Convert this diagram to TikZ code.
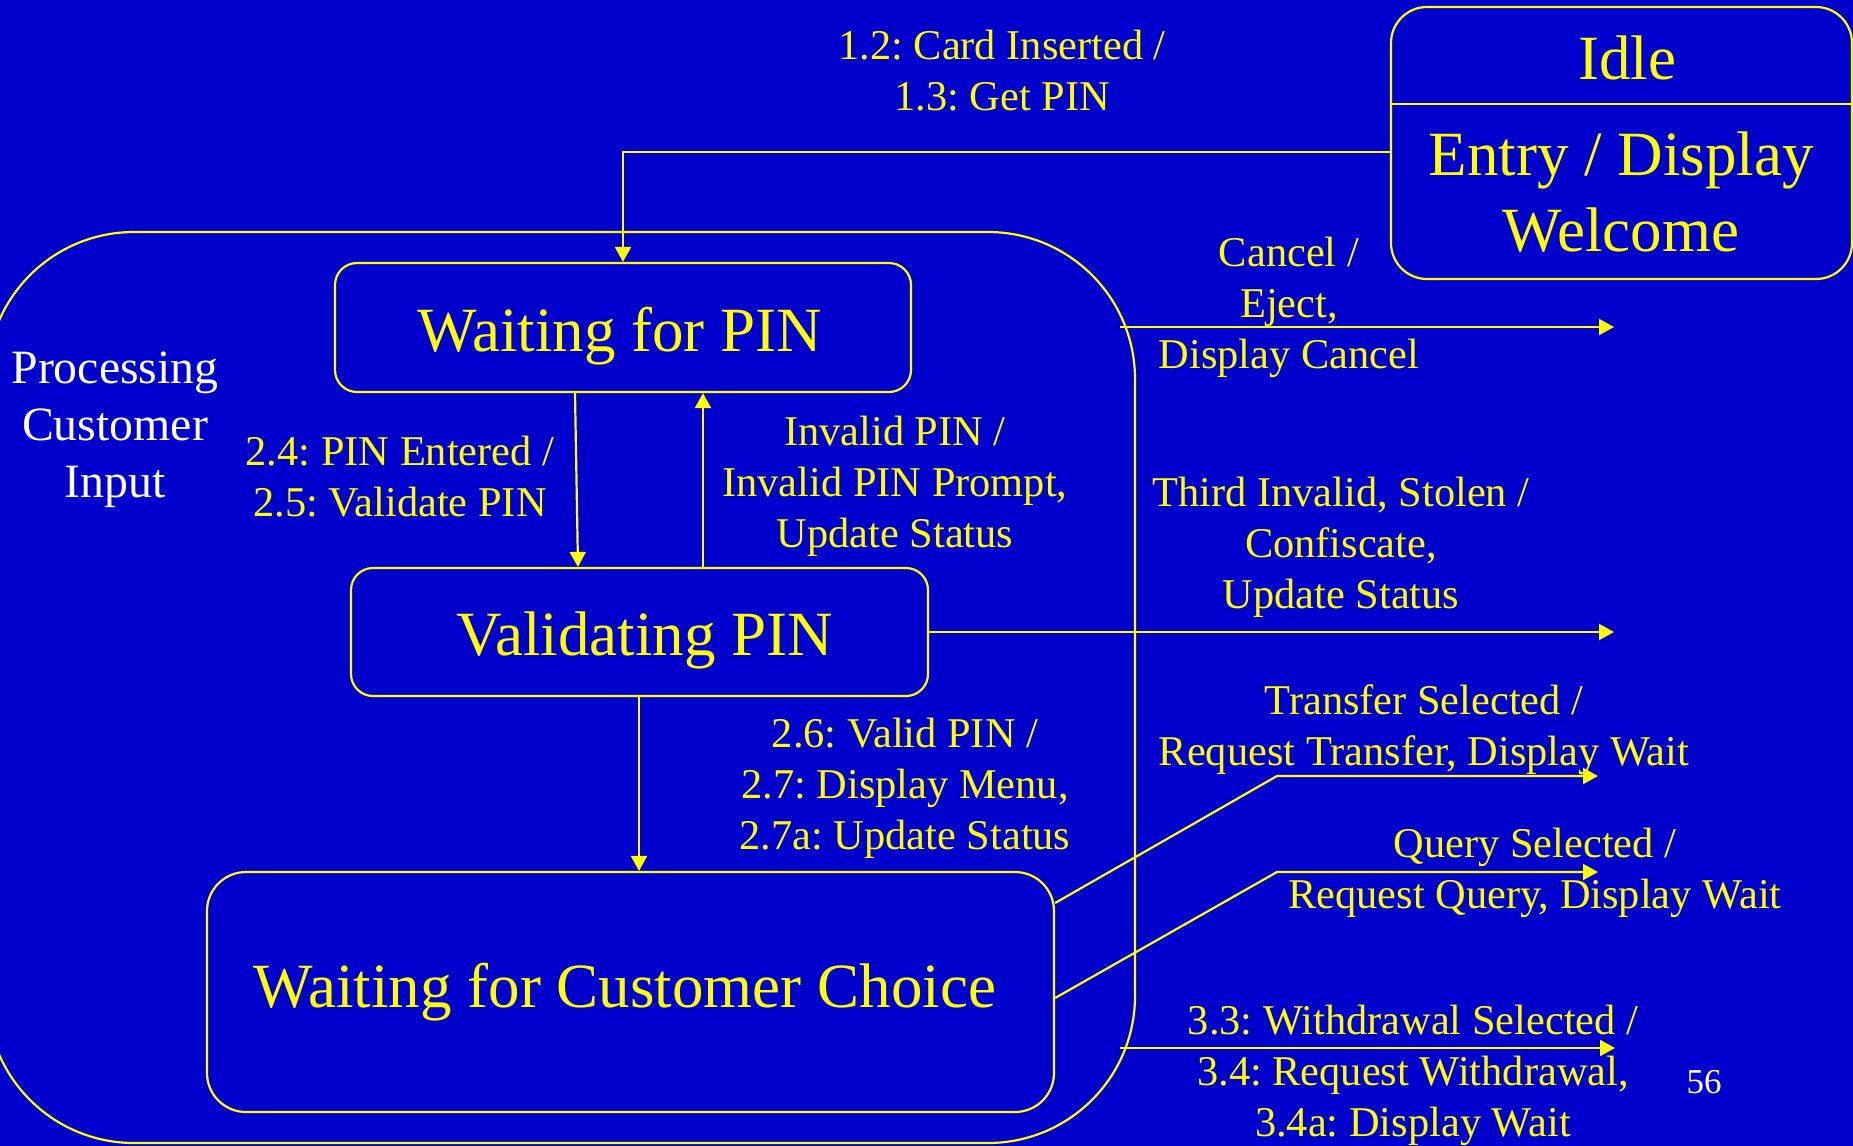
\documentclass[tikz,border=0pt]{standalone}
\usepackage{fontspec}
\setmainfont{Liberation Serif}
\usetikzlibrary{arrows.meta}
\definecolor{bgblue}{HTML}{0000CC}
\definecolor{ylw}{HTML}{FFFF00}
\newcommand{\ml}[1]{\begin{tabular}[t]{@{}c@{}}#1\end{tabular}}
\frenchspacing
\begin{document}
\frenchspacing
\begin{tikzpicture}[x=0.5pt,y=-0.5pt,
  stbox/.style={draw=ylw, line width=1.1pt, rounded corners=11pt, inner sep=0pt},
  stname/.style={text=ylw, font=\fontsize{31.5}{38}\selectfont, anchor=base, inner sep=0pt},
  lbl/.style={text=ylw, font=\fontsize{21.2}{25.5}\selectfont, anchor=base, inner sep=0pt},
  wlbl/.style={text=white, anchor=base, inner sep=0pt},
  arr/.style={draw=ylw, line width=1.1pt, -{Triangle[length=7.5pt,width=8pt]}},
  plain/.style={draw=ylw, line width=1.1pt}]

\fill[bgblue] (0,0) rectangle (1853,1146);
\useasboundingbox (0,0) rectangle (1853,1146);

% superstate
\node[stbox, rounded corners=73.5pt, minimum width=574pt, minimum height=455.5pt] (pci) at (561,687.5) {};
\node[wlbl, font=\fontsize{23.9}{28.5}\selectfont] (pcit) at (115,383) {\ml{Processing\\Customer\\Input}};

% states
\node[stbox, rounded corners=18pt, minimum width=230.5pt, minimum height=136pt] (idle) at (1621.5,143) {};
\node[stbox, minimum width=288pt, minimum height=64.5pt] (wfp) at (623,327.5) {};
\node[stbox, minimum width=288.5pt, minimum height=64pt] (vp) at (639.5,632) {};
\node[stbox, rounded corners=19.5pt, minimum width=423.5pt, minimum height=120pt] (wfcc) at (630.5,992) {};

\coordinate (yd) at (0,104);
\draw[plain] (idle.west |- yd) -- (idle.east |- yd);

\node[stname] (idlet) at (1627,79) {Idle};
\node[stname] (entryt) at (1621,175) {\ml{Entry / Display\\Welcome}};
\node[stname] (wfpt) at (620,351) {Waiting for PIN};
\node[stname] (vpt) at (645,655) {Validating PIN};
\node[stname] (wfcct) at (625,1007) {Waiting for Customer Choice};

% labels
\node[lbl] (l12) at (1002,59) {\ml{1.2: Card Inserted /\\1.3: Get PIN}};
\node[lbl] (l24) at (400,465) {\ml{2.4: PIN Entered /\\2.5: Validate PIN}};
\node[lbl] (linv) at (895,445) {\ml{Invalid PIN /\\Invalid PIN Prompt,\\Update Status}};
\node[lbl] (l26) at (905,747) {\ml{2.6: Valid PIN /\\2.7: Display Menu,\\2.7a: Update Status}};
\node[lbl] (lcan) at (1289,266) {\ml{Cancel /\\Eject,\\Display Cancel}};
\node[lbl] (lthird) at (1341,506) {\ml{Third Invalid, Stolen /\\Confiscate,\\Update Status}};
\node[lbl] (ltr) at (1424,714) {\ml{Transfer Selected /\\Request Transfer, Display Wait}};
\node[lbl] (lq) at (1535,857) {\ml{Query Selected /\\Request Query, Display Wait}};
\node[lbl] (lw) at (1413,1034) {\ml{3.3: Withdrawal Selected /\\3.4: Request Withdrawal,\\3.4a: Display Wait}};
\node[wlbl, font=\fontsize{17.5}{21}\selectfont] (pg) at (1704,1093) {56};

% connectors
\coordinate (ya) at (0,152);
\draw[arr] (idle.west |- ya) -| (wfp.north);
\coordinate (xa) at (575,0);
\coordinate (xb) at (578,0);
\coordinate (xc) at (703,0);
\coordinate (xd) at (639,0);
\draw[arr] (wfp.south -| xa) -- (vp.north -| xb);
\draw[arr] (vp.north -| xc) -- (wfp.south -| xc);
\draw[arr] (vp.south -| xd) -- (wfcc.north -| xd);
\coordinate (cs) at (1120,327);
\coordinate (ce) at (1614,327);
\draw[arr] (cs) -- (ce);
\coordinate (te) at (1614,632);
\draw[arr] (vp.east) -- (te);
\coordinate (t0) at (0,903);
\coordinate (tb) at (1277,776);
\coordinate (tt) at (1598,776);
\draw[arr] (wfcc.east |- t0) -- (tb) -- (tt);
\coordinate (q0) at (0,998);
\coordinate (qb) at (1277,872);
\coordinate (qt) at (1598,872);
\draw[arr] (wfcc.east |- q0) -- (qb) -- (qt);
\coordinate (ws) at (1120,1048);
\coordinate (we) at (1615,1048);
\draw[arr] (ws) -- (we);
\end{tikzpicture}
\end{document}
